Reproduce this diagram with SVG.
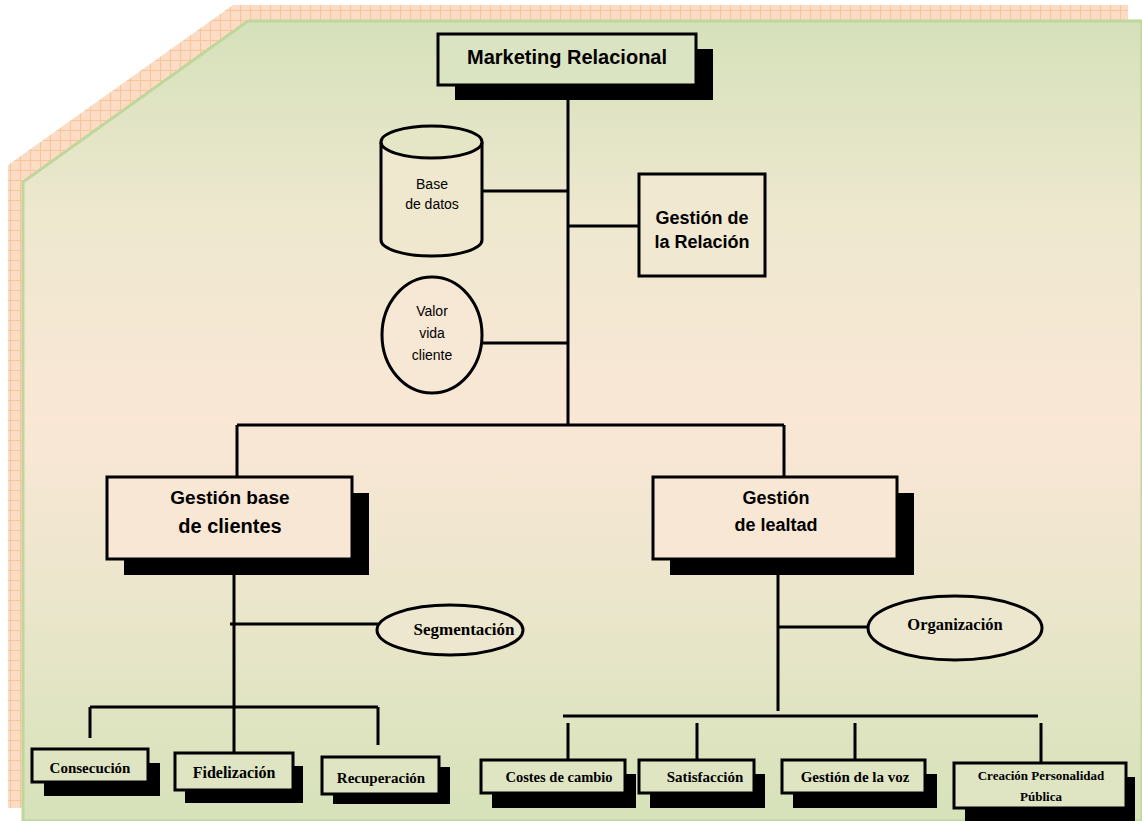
<svg xmlns="http://www.w3.org/2000/svg" width="1142" height="821" viewBox="0 0 1142 821">
<defs>
<pattern id="hatch" width="10" height="10" patternUnits="userSpaceOnUse">
<rect width="10" height="10" fill="#fcdcc4"/>
<path d="M0,0.5H10M0.5,0V10" stroke="#f8c49a" stroke-width="1"/>
</pattern>
<linearGradient id="bg" gradientUnits="userSpaceOnUse" x1="0" y1="21" x2="0" y2="821">
<stop offset="0" stop-color="#d5e1ba"/>
<stop offset="0.25" stop-color="#eee8cf"/>
<stop offset="0.5" stop-color="#fae7d6"/>
<stop offset="0.72" stop-color="#ebe6cc"/>
<stop offset="1" stop-color="#d6e2b9"/>
</linearGradient>
<style>
.ln{stroke:#000;stroke-width:3;fill:none}
.sh{fill:#000}
.ts{font-family:"Liberation Sans",Arial,sans-serif;font-weight:bold;fill:#000;text-anchor:middle}
.tr{font-family:"Liberation Serif","Times New Roman",serif;font-weight:bold;fill:#000;text-anchor:middle}
.tn{font-family:"Liberation Sans",Arial,sans-serif;fill:#000;text-anchor:middle}
</style>
</defs>
<g id="background">
<polygon points="8,808 8,165 233,5 1128,5 1128,808" fill="url(#hatch)"/>
<polygon points="23,821 23,182 248,21 1142,21 1142,821" fill="url(#bg)" stroke="#bfd69c" stroke-width="3"/>
</g>
<g id="connectors">
<path class="ln" d="M568,100V425M482,191H568M568,226H639M482,343H568M237,425H784M237,425V477M784,425V477"/>
<path class="ln" d="M234,575V753M230,624H378M90,707H378M90,707V738M378,707V745"/>
<path class="ln" d="M778,575V711M778,627H868M563,716H1038M568,723V760M697,723V760M855,723V760M1041,723V763"/>
</g>
<g id="n-marketing">
<rect class="sh" x="455" y="49" width="258" height="51"/>
<rect x="438" y="34" width="258" height="51" fill="#dbe4c2" stroke="#000" stroke-width="3"/>
<text class="ts" x="567" y="64" font-size="20">Marketing Relacional</text>
</g>
<g id="n-basedatos">
<path d="M381,142V240A50.5,16 0 0 0 482,240V142" fill="#efe8cf" stroke="#000" stroke-width="3"/>
<ellipse cx="431.5" cy="142" rx="50.5" ry="16" fill="#e4e6c6" stroke="#000" stroke-width="3"/>
<text class="tn" x="432" y="189" font-size="14">Base</text>
<text class="tn" x="432" y="209" font-size="14">de datos</text>
</g>
<g id="n-relacion">
<rect x="639" y="174" width="126" height="102" fill="#f1e8d1" stroke="#000" stroke-width="3"/>
<text class="ts" x="702" y="224" font-size="18">Gestión de</text>
<text class="ts" x="702" y="248" font-size="18">la Relación</text>
</g>
<g id="n-valor">
<ellipse cx="432" cy="335" rx="50" ry="58" fill="#f6e8d4" stroke="#000" stroke-width="3"/>
<text class="tn" x="432" y="316" font-size="14">Valor</text>
<text class="tn" x="432" y="338" font-size="14">vida</text>
<text class="tn" x="432" y="360" font-size="14">cliente</text>
</g>
<g id="n-gbase">
<rect class="sh" x="124" y="493" width="245" height="82"/>
<rect x="107" y="477" width="245" height="82" fill="#f9e7d5" stroke="#000" stroke-width="3"/>
<text class="ts" x="230" y="504" font-size="19">Gestión base</text>
<text class="ts" x="230" y="533" font-size="20">de clientes</text>
</g>
<g id="n-glealtad">
<rect class="sh" x="670" y="493" width="244" height="82"/>
<rect x="653" y="477" width="244" height="82" fill="#f9e7d5" stroke="#000" stroke-width="3"/>
<text class="ts" x="776" y="504" font-size="18">Gestión</text>
<text class="ts" x="776" y="531" font-size="18">de lealtad</text>
</g>
<g id="n-segmentacion">
<ellipse cx="450" cy="630" rx="73" ry="25" fill="#ede7cf" stroke="#000" stroke-width="3"/>
<text class="tr" x="464" y="635" font-size="17">Segmentación</text>
</g>
<g id="n-organizacion">
<ellipse cx="955" cy="628" rx="87" ry="32" fill="#ede7cf" stroke="#000" stroke-width="3"/>
<text class="tr" x="955" y="630" font-size="16.5">Organización</text>
</g>
<g id="n-consecucion">
<rect class="sh" x="44" y="763" width="116" height="33"/>
<rect x="32" y="749" width="116" height="33" fill="#dfe5c3" stroke="#000" stroke-width="3"/>
<text class="tr" x="90" y="773" font-size="15">Consecución</text>
</g>
<g id="n-fidelizacion">
<rect class="sh" x="185" y="766" width="118" height="37"/>
<rect x="175" y="753" width="118" height="37" fill="#dfe5c3" stroke="#000" stroke-width="3"/>
<text class="tr" x="234" y="778" font-size="16">Fidelización</text>
</g>
<g id="n-recuperacion">
<rect class="sh" x="333" y="767" width="117" height="37"/>
<rect x="322" y="757" width="117" height="37" fill="#dfe5c3" stroke="#000" stroke-width="3"/>
<text class="tr" x="381" y="783" font-size="15">Recuperación</text>
</g>
<g id="n-costes">
<rect class="sh" x="492" y="774" width="144" height="34"/>
<rect x="481" y="760" width="144" height="33" fill="#dfe5c3" stroke="#000" stroke-width="3"/>
<text class="tr" x="559" y="782" font-size="14.5">Costes de cambio</text>
</g>
<g id="n-satisfaccion">
<rect class="sh" x="650" y="774" width="115" height="34"/>
<rect x="639" y="760" width="115" height="33" fill="#dfe5c3" stroke="#000" stroke-width="3"/>
<text class="tr" x="705" y="782" font-size="15">Satisfacción</text>
</g>
<g id="n-voz">
<rect class="sh" x="793" y="774" width="144" height="34"/>
<rect x="782" y="760" width="143" height="33" fill="#dfe5c3" stroke="#000" stroke-width="3"/>
<text class="tr" x="855" y="782" font-size="15">Gestión de la voz</text>
</g>
<g id="n-creacion">
<rect class="sh" x="965" y="777" width="170" height="44"/>
<rect x="954" y="763" width="172" height="45" fill="#dfe5c3" stroke="#000" stroke-width="3"/>
<text class="tr" x="1041" y="780" font-size="13">Creación Personalidad</text>
<text class="tr" x="1041" y="801" font-size="13">Pública</text>
</g>
</svg>
